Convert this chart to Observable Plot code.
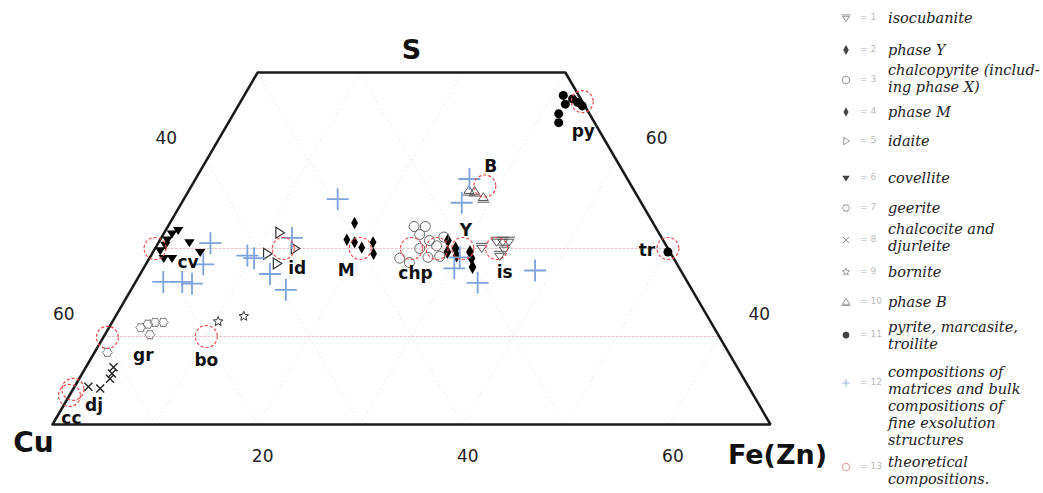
<!DOCTYPE html>
<html><head><meta charset="utf-8">
<script src="https://cdn.jsdelivr.net/npm/d3@7"></script>
<script src="https://cdn.jsdelivr.net/npm/@observablehq/plot@0.6"></script>
<style>
body{margin:0;background:#fff;}
#wrap{position:relative;width:1043px;height:493px;overflow:hidden;}
#chart{position:absolute;left:0;top:0;}
#legend{position:absolute;left:830px;top:0;width:213px;height:493px;}
.item{position:absolute;left:0;width:213px;}
.sym{position:absolute;left:8px;}
.num{position:absolute;left:30px;font:9px "DejaVu Sans",sans-serif;color:#bbb;}
.lab{position:absolute;left:58px;font-family:"DejaVu Serif",serif;font-style:italic;font-size:14.5px;line-height:17px;color:#222;white-space:nowrap;}
</style></head>
<body><div id="wrap"><div id="chart"></div><div id="legend"></div></div>
<script>
// ---- data: compositions in at.% as [Fe, S]  (Cu = 100 - Fe - S) ----
const isocubanite = [[31.8,50.1],[32.9,50.8],[33.5,50.8],[34.1,50.8],[34.1,49.9],[34.0,49.2]];
const phaseY = [[28.1,50.9],[28.7,49.6],[29.3,50.0],[29.8,49.2],[30.9,49.6],[31.4,48.9],[32.0,47.9]];
const chalcopyrite = [[24.0,52.5],[25.1,52.5],[25.0,51.6],[26.3,50.9],[27.3,50.3],[24.4,48.9],[25.6,48.4],[27.1,49.0],[28.2,49.1],[25.8,50.0],[27.5,51.3]];
const phaseM = [[18.0,52.9],[18.2,51.0],[19.1,50.7],[20.1,50.1],[20.9,50.7],[21.6,49.4]];
const idaite = [[11.2,51.8],[13.6,50.0],[11.2,49.4],[12.7,48.3]];
const covellite = [[1.2,52.1],[0.8,51.7],[0.7,51.0],[0.8,50.4],[3.0,50.7],[4.6,49.6],[1.4,48.9],[2.2,48.9],[0.6,49.8]];
const geerite = [[3.1,41.0],[3.6,41.4],[4.2,41.6],[5.0,41.6],[4.4,40.2],[1.25,38.2]];
const chalcocite = [[2.7,36.5],[2.9,35.8],[3.0,35.2],[1.35,34.3],[2.6,34.1]];
const bornite = [[10.3,41.7],[12.5,42.3]];
const phaseB = [[27.3,56.6],[27.9,56.5],[29.1,55.8]];
const pyrite = [[31.1,67.4],[31.8,66.4],[32.2,67.0],[32.9,66.6],[33.55,66.2],[31.7,65.3],[32.2,64.3],[50.2,49.6]];
const matrices = [[15.0,55.6],[26.7,57.9],[27.3,55.2],[5.1,50.6],[5.6,48.2],[2.7,46.2],[4.55,46.2],[5.6,46.0],[12.75,51.2],[9.4,49.2],[10.2,48.9],[12.65,47.1],[15.1,45.3],[30.3,47.75],[33.4,46.1],[38.3,47.5],[30.2,49.0]];
const theoreticalNames = ["cc","dj","gr","bo","cv","id","M","chp","","Y","is","B","tr","py"];
const theoreticalFe = [0,0,0.4,10,0,12.5,20,25,27.5,30,33.3,28.6,50,33.3];
const theoreticalS  = [33.3,34.0,39.9,40,50,50,50,50,50,50,50,57.1,50,66.7];
const sRange = [30, 70];
const leftTicksCu = [40, 60];
const rightTicksS = [40, 60];
const bottomTicksFe = [20, 40, 60];
const gridS = [40, 50];
const gridCu = [20, 30, 40, 50, 60];
const gridFe = [10, 20, 30, 40, 50, 60];
const legendLabels = [
  ["isocubanite"],["phase Y"],["chalcopyrite (includ-","ing phase X)"],["phase M"],["idaite"],
  ["covellite"],["geerite"],["chalcocite and","djurleite"],["bornite"],["phase B"],
  ["pyrite, marcasite,","troilite"],
  ["compositions of","matrices and bulk","compositions of","fine exsolution","structures"],
  ["theoretical","compositions."]
];

// ---- symbols ----
const sym = fn => ({draw(c, size){ const r = Math.sqrt(size/Math.PI); fn(c, r); }});
const triDown = sym((c,r)=>{c.moveTo(-r,-r*0.6);c.lineTo(r,-r*0.6);c.lineTo(0,r*0.95);c.closePath();});
const triDownBar = sym((c,r)=>{c.moveTo(-r,-r*0.45);c.lineTo(r,-r*0.45);c.lineTo(0,r*0.95);c.closePath();c.moveTo(-r*1.2,-r*0.85);c.lineTo(r*1.2,-r*0.85);});
const triUp = sym((c,r)=>{c.moveTo(-r,r*0.6);c.lineTo(r,r*0.6);c.lineTo(0,-r*0.95);c.closePath();c.moveTo(-r*1.2,r*0.95);c.lineTo(r*1.2,r*0.95);});
const triRight = sym((c,r)=>{c.moveTo(-r*0.6,-r);c.lineTo(r*0.95,0);c.lineTo(-r*0.6,r);c.closePath();});
const diamond = sym((c,r)=>{c.moveTo(0,-r*1.35);c.lineTo(r*0.75,0);c.lineTo(0,r*1.35);c.lineTo(-r*0.75,0);c.closePath();});
const plus = sym((c,r)=>{c.moveTo(-r,0);c.lineTo(r,0);c.moveTo(0,-r);c.lineTo(0,r);});
const times = sym((c,r)=>{c.moveTo(-r,-r);c.lineTo(r,r);c.moveTo(-r,r);c.lineTo(r,-r);});
const circle = sym((c,r)=>{c.moveTo(r,0);c.arc(0,0,r,0,2*Math.PI);});
const star = sym((c,r)=>{for(let i=0;i<10;i++){const a=-Math.PI/2+i*Math.PI/5,rr=i%2?r*0.45:r;const px=rr*Math.cos(a),py=rr*Math.sin(a);i?c.lineTo(px,py):c.moveTo(px,py);}c.closePath();});
const cog = sym((c,r)=>{for(let i=0;i<12;i++){const a=i*Math.PI/6,rr=i%2?r*0.75:r;const px=rr*Math.cos(a),py=rr*Math.sin(a);i?c.lineTo(px,py):c.moveTo(px,py);}c.closePath();});

const series = [
  {data: isocubanite, symbol: triDownBar, r: 5, fill: "none", stroke: "#555", sw: 1},
  {data: phaseY, symbol: diamond, r: 5.2, fill: "#000", stroke: "none", sw: 0},
  {data: chalcopyrite, symbol: circle, r: 5, fill: "none", stroke: "#666", sw: 1},
  {data: phaseM, symbol: diamond, r: 4.6, fill: "#000", stroke: "none", sw: 0},
  {data: idaite, symbol: triRight, r: 5.5, fill: "none", stroke: "#333", sw: 1.2},
  {data: covellite, symbol: triDown, r: 5.2, fill: "#000", stroke: "none", sw: 0},
  {data: geerite, symbol: cog, r: 5, fill: "none", stroke: "#777", sw: 1},
  {data: chalcocite, symbol: times, r: 4, fill: "none", stroke: "#222", sw: 1.4},
  {data: bornite, symbol: star, r: 5, fill: "none", stroke: "#333", sw: 1},
  {data: phaseB, symbol: triUp, r: 5, fill: "none", stroke: "#555", sw: 1},
  {data: pyrite, symbol: circle, r: 4.5, fill: "#000", stroke: "none", sw: 0},
  {data: matrices, symbol: plus, r: 11, fill: "none", stroke: "#7fa2dd", sw: 1.8},
];

const X = d => d[0] + d[1]/2;   // ternary projection (Cu at origin)
const Y = d => d[1];

// grid segments built from grid values
const seg = [];
gridS.forEach(s => { seg.push({id:"s"+s, fe:0, s}); seg.push({id:"s"+s, fe:100-s, s}); });
gridCu.forEach(cu => { const s1 = Math.min(sRange[1], 100-cu); seg.push({id:"c"+cu, fe:100-cu-sRange[0], s:sRange[0]}); seg.push({id:"c"+cu, fe:100-cu-s1, s:s1}); });
gridFe.forEach(fe => { const s1 = Math.min(sRange[1], 100-fe); seg.push({id:"f"+fe, fe, s:sRange[0]}); seg.push({id:"f"+fe, fe, s:s1}); });
const segS = seg.filter(d => d.id[0]==="s"), segD = seg.filter(d => d.id[0]!=="s");

const frame = [[0,sRange[0]],[0,sRange[1]],[100-sRange[1],sRange[1]],[100-sRange[0],sRange[0]],[0,sRange[0]]];

const theo = theoreticalNames.map((n,i)=>({name:n, fe:theoreticalFe[i], s:theoreticalS[i]}));
const labelOffset = {cc:[2,23],dj:[21,16],gr:[36,18],bo:[0,24],cv:[33,14],id:[14,20],M:[-14,22],chp:[4,25],Y:[3,-18],is:[8,24],B:[6,-19],tr:[-21,2],py:[1,30]};
const labelled = theo.filter(d => d.name);

const txt = {fontFamily:"DejaVu Sans, sans-serif"};
const marks = [
  Plot.line(segD, {x: d=>d.fe+d.s/2, y:"s", z:"id", stroke:"#eeeeee", strokeWidth:1, strokeDasharray:"1.5,3"}),
  Plot.line(segS, {x: d=>d.fe+d.s/2, y:"s", z:"id", stroke:"#e2c4c4", strokeWidth:1, strokeDasharray:"2,2"}),
  Plot.line(frame, {x: X, y: Y, stroke:"#1a1a1a", strokeWidth:2.5, strokeLinejoin:"miter"}),
  ...series.map(s => Plot.dot(s.data, {x: X, y: Y, symbol: s.symbol, r: s.r, fill: s.fill, stroke: s.stroke, strokeWidth: s.sw})),
  Plot.dot(theo, {x: d=>d.fe+d.s/2, y:"s", r: 11, symbol: circle, fill:"none", stroke:"#ef4a4a", strokeWidth:1.2, strokeDasharray:"3,2"}),
  ...labelled.map(d => Plot.text([d], {x: d=>d.fe+d.s/2, y:"s", text:"name", dx: labelOffset[d.name][0], dy: labelOffset[d.name][1], fontSize:17, fontWeight:"bold", fill:"#111", ...txt})),
  Plot.text(leftTicksCu, {x: cu => (100-cu)/2, y: cu => 100-cu, text: d=>String(d), dx:-40, dy:-22, fontSize:17, fill:"#222", ...txt}),
  Plot.text(rightTicksS, {x: s => (100-s)+s/2, y: s => s, text: d=>String(d), dx:40, dy:-22, fontSize:17, fill:"#222", ...txt}),
  Plot.text(bottomTicksFe, {x: fe => fe + sRange[0]/2, y: () => sRange[0], text: d=>String(d), dx:5, dy:32, fontSize:17, fill:"#222", ...txt}),
  Plot.text(["S"], {x: () => (100-sRange[1])/2 + sRange[1]/2, y: () => sRange[1], text: d=>d, dy:-22, fontSize:27, fontWeight:"bold", fill:"#111", ...txt}),
  Plot.text(["Cu"], {x: () => sRange[0]/2, y: () => sRange[0], text: d=>d, dx:-19, dy:19, fontSize:28, fontWeight:"bold", fill:"#111", ...txt}),
  Plot.text(["Fe(Zn)"], {x: () => 100-sRange[0]/2, y: () => sRange[0], text: d=>d, dx:7, dy:31, fontSize:27, fontWeight:"bold", fill:"#111", ...txt}),
];

const chart = Plot.plot({
  width: 830, height: 493,
  marginLeft: 52, marginRight: 60, marginTop: 72, marginBottom: 69,
  x: {domain: [15, 85], axis: null},
  y: {domain: sRange, axis: null},
  style: {background: "white", overflow: "visible"},
  marks
});
document.getElementById("chart").appendChild(chart);

// ---- legend (HTML beside the chart) ----
const legendStyle = [
  {sym: series[0], y: 18},{sym: series[1], y: 50},{sym: series[2], y: 80, top: 70},{sym: series[3], y: 112},
  {sym: series[4], y: 141},{sym: series[5], y: 178},{sym: series[6], y: 208},{sym: series[7], y: 240, top: 229},
  {sym: series[8], y: 272},{sym: series[9], y: 302},{sym: series[10], y: 335, top: 327},
  {sym: series[11], y: 383, top: 372},{sym: {symbol: circle, r: 5, fill:"none", stroke:"#ee8888", sw:1.3}, y: 467, top: 462}
];
const leg = document.getElementById("legend");
legendLabels.forEach((lines, i) => {
  const st = legendStyle[i];
  const s = st.sym;
  const rr = Math.min(s.r, 5) * 0.75;
  const path = d3.symbol(s.symbol, Math.PI*rr*rr)();
  const item = document.createElement("div");
  item.className = "item"; item.style.top = "0px";
  const svg = `<svg class="sym" width="16" height="16" style="top:${st.y-8}px"><g transform="translate(8,8)"><path d="${path}" fill="${s.fill==="none"?"none":"#444"}" stroke="${s.stroke==="none"?"none":(s === series[11] ? "#9fb8e6" : (s.stroke==="#ee8888"?"#f09a9a":"#999"))}" stroke-width="1"/></g></svg>`;
  const num = `<div class="num" style="top:${st.y-6}px">= ${i+1}</div>`;
  const top = (st.top !== undefined ? st.top : st.y) - 8.5;
  const lab = `<div class="lab" style="top:${top}px">${lines.join("<br>")}</div>`;
  item.innerHTML = svg + num + lab;
  leg.appendChild(item);
});
</script></body></html>
